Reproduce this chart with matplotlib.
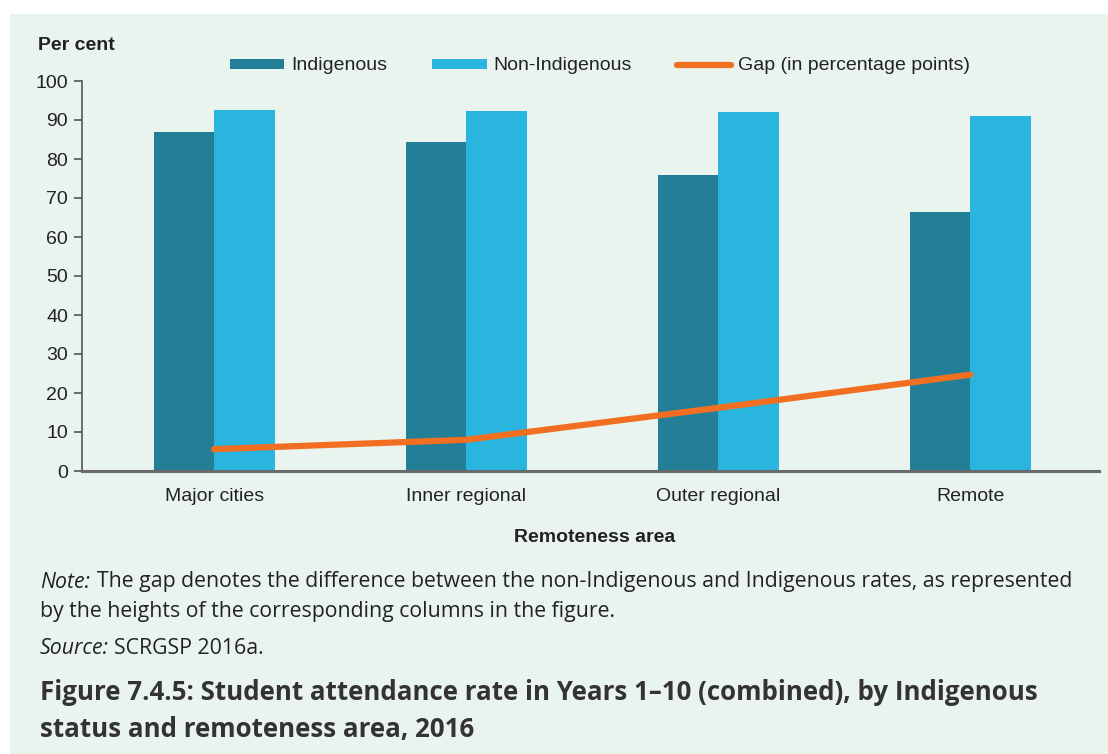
import matplotlib
matplotlib.use("Agg")
import matplotlib.pyplot as plt
from matplotlib.patches import Rectangle
import numpy as np

# Attendance rates (%) by remoteness area, 2016
categories = ["Major cities", "Inner regional", "Outer regional", "Remote"]
indigenous = [86.9, 84.3, 75.8, 66.3]
non_indigenous = [92.5, 92.3, 92.0, 91.0]
gap = [n - i for n, i in zip(non_indigenous, indigenous)]
y_ticks = [0, 10, 20, 30, 40, 50, 60, 70, 80, 90, 100]

C_IND = "#237E98"
C_NON = "#29B5DD"
C_GAP = "#F26F22"
BG = "#EAF4EF"
TXT = "#222222"

plt.rcParams["font.family"] = ["Liberation Sans", "DejaVu Sans"]

W, H = 1108, 754
fig = plt.figure(figsize=(W / 100, H / 100), dpi=100)
fig.patch.set_facecolor("white")

# mint panel behind everything
fig.patches.append(Rectangle((10 / W, 0), (W - 10) / W, 1 - 14 / H,
                             transform=fig.transFigure, facecolor=BG,
                             edgecolor="none", zorder=-10))

ax = fig.add_axes([82 / W, 1 - 471 / H, (1099 - 82) / W, (471 - 81) / H])
ax.set_facecolor("none")

x = np.arange(len(categories))
bw = 0.24
b1 = ax.bar(x - bw / 2, indigenous, width=bw, color=C_IND, label="Indigenous", zorder=2)
b2 = ax.bar(x + bw / 2, non_indigenous, width=bw, color=C_NON, label="Non-Indigenous", zorder=2)
ln, = ax.plot(x, gap, color=C_GAP, lw=4.5, solid_capstyle="round",
              label="Gap (in percentage points)", zorder=3)

ax.set_xlim(-0.524, 3.51)
ax.set_ylim(0, 100)
ax.set_yticks(y_ticks)
ax.set_xticks(x)
ax.set_xticklabels(categories, fontsize=14, color=TXT)
ax.tick_params(axis="x", length=0, pad=12)
ax.tick_params(axis="y", length=6, width=1.2, color="#555555",
               labelsize=14, labelcolor=TXT, pad=4)
for s in ["top", "right"]:
    ax.spines[s].set_visible(False)
ax.spines["left"].set_color("#555555")
ax.spines["left"].set_linewidth(1.2)
ax.spines["bottom"].set_color("#6a6a6a")
ax.spines["bottom"].set_linewidth(2.2)

fig.text(38 / W, 1 - 46 / H, "Per cent", fontsize=14, fontweight="bold",
         color=TXT, va="center", ha="left")
fig.text(595 / W, 1 - 537 / H, "Remoteness area", fontsize=14,
         fontweight="bold", color=TXT, va="center", ha="center")

leg = ax.legend(handles=[b1, b2, ln], loc="center",
                bbox_to_anchor=(600 / W, 1 - 66 / H),
                bbox_transform=fig.transFigure, ncol=3, frameon=False,
                fontsize=14, handlelength=2.8, handleheight=0.42,
                handletextpad=0.36, columnspacing=2.3)
for t in leg.get_texts():
    t.set_color(TXT)

cap = ["Open Sans", "DejaVu Sans"]
fs_cap = 15.3
fig.text(40 / W, 1 - 582 / H, "Note:", fontsize=fs_cap, color=TXT,
         va="center", ha="left", family=cap, style="italic")
fig.text(97 / W, 1 - 582 / H,
         "The gap denotes the difference between the non-Indigenous and Indigenous rates, as represented",
         fontsize=fs_cap, color=TXT, va="center", ha="left", family=cap)
fig.text(40 / W, 1 - 612 / H,
         "by the heights of the corresponding columns in the figure.",
         fontsize=fs_cap, color=TXT, va="center", ha="left", family=cap)
fig.text(40 / W, 1 - 649 / H, "Source:", fontsize=fs_cap, color=TXT,
         va="center", ha="left", family=cap, style="italic")
fig.text(114 / W, 1 - 649 / H, "SCRGSP 2016a.", fontsize=fs_cap, color=TXT,
         va="center", ha="left", family=cap)
fig.text(40 / W, 1 - 692 / H,
         "Figure 7.4.5: Student attendance rate in Years 1\u201310 (combined), by Indigenous",
         fontsize=18.6, fontweight="bold", color="#333333", va="center",
         ha="left", family=cap)
fig.text(40 / W, 1 - 729 / H, "status and remoteness area, 2016",
         fontsize=18.6, fontweight="bold", color="#333333", va="center",
         ha="left", family=cap)

fig.savefig("out.png", dpi=100, facecolor=fig.get_facecolor())
